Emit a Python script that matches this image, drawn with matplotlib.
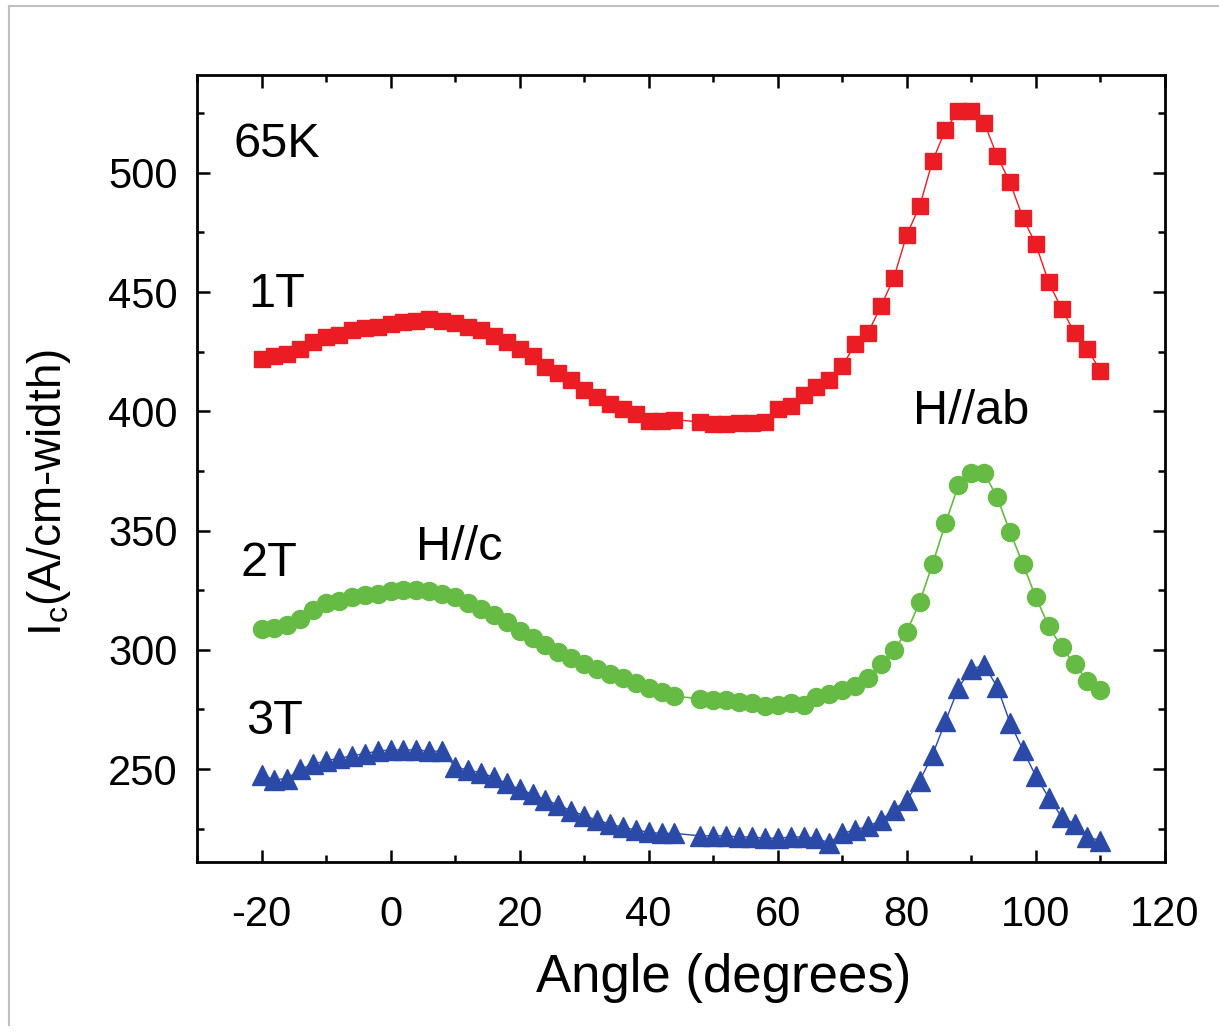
import matplotlib.pyplot as plt
from matplotlib.lines import Line2D
from matplotlib.ticker import MultipleLocator

plt.rcParams['font.family'] = ['Liberation Sans', 'DejaVu Sans']
plt.rcParams['axes.unicode_minus'] = False

# measurement angles (degrees); no point at 46
angles = [-20, -18, -16, -14, -12, -10, -8, -6, -4, -2, 0, 2, 4, 6, 8, 10, 12,
          14, 16, 18, 20, 22, 24, 26, 28, 30, 32, 34, 36, 38, 40, 42, 44,
          48, 50, 52, 54, 56, 58, 60, 62, 64, 66, 68, 70, 72, 74, 76, 78, 80,
          82, 84, 86, 88, 90, 92, 94, 96, 98, 100, 102, 104, 106, 108, 110]

ic_1t = [422, 423, 424, 426, 429, 431, 432, 434, 435, 435.5, 436.5, 437.5, 438,
         438.5, 438, 437, 435.5, 434, 431.5, 429, 426, 423, 418.5, 416, 413,
         409, 406, 403, 401, 399, 396, 396, 396.5,
         395.5, 394.5, 394.5, 395, 395, 395.5, 401, 402, 407, 410, 413, 419,
         428, 433, 444, 456, 474, 486, 505, 518, 526, 526, 521, 507, 496, 481,
         470, 454, 443, 433, 426, 417]

ic_2t = [308.5, 309, 310.5, 313, 316.5, 319.5, 320.5, 322, 323, 323.5, 324.5,
         325, 325, 324.5, 323.5, 322, 319.5, 317, 314.5, 311.5, 308, 305, 302,
         299, 296.5, 294, 292, 290, 288, 286, 284, 282.5, 280.5,
         279.5, 279, 279, 278, 277.5, 276.5, 277, 277.5, 277, 280, 281.5, 283,
         285, 288, 294, 300, 307.5, 320, 336, 353, 369, 374, 374, 364, 349.5,
         336, 322, 310, 301, 294, 287, 283]

ic_3t = [247.5, 245.5, 246, 250, 252, 253.5, 254.5, 255.5, 256.5, 257.5, 258,
         258, 258, 257.5, 257.5, 251, 249.5, 248.5, 246.5, 244, 241.5, 239.5,
         237, 235, 232.5, 230.5, 228.5, 227, 225.5, 224.5, 223.5, 223, 223,
         222, 222, 222, 221.5, 221.5, 221, 221, 221.5, 221.5, 221, 219, 223,
         224.5, 226, 228.5, 233, 237, 245, 256, 270, 284, 292, 293.5, 284.5,
         269.5, 258, 247, 238, 230, 227, 221.5, 220]

fig = plt.figure(figsize=(12.19, 10.34), dpi=100)
ax = fig.add_axes([0.1616, 0.1663, 0.794, 0.7612])

ax.plot(angles, ic_1t, color='#ec1c24', marker='s', markersize=11.5, lw=1)
ax.plot(angles, ic_2t, color='#66bb44', marker='o', markersize=13, lw=1.2)
ax.plot(angles, ic_3t, color='#2b4aa8', marker='^', markersize=14, lw=1)

ax.set_xlim(-30, 120)
ax.set_ylim(211, 541)
ax.xaxis.set_major_locator(MultipleLocator(20))
ax.xaxis.set_minor_locator(MultipleLocator(10))
ax.yaxis.set_major_locator(MultipleLocator(50))
ax.yaxis.set_minor_locator(MultipleLocator(25))
ax.tick_params(which='both', direction='in', top=True, right=True, width=1.8)
ax.tick_params(which='major', length=9)
ax.tick_params(which='minor', length=5)
ax.tick_params(axis='x', labelsize=30, pad=24)
ax.tick_params(axis='y', labelsize=30, pad=14)
for s in ax.spines.values():
    s.set_linewidth(2)

ax.set_xlabel('Angle (degrees)', fontsize=38)
ax.xaxis.set_label_coords(0.544, -0.115)
ax.set_ylabel(r'I$_\mathregular{c}$(A/cm-width)', fontsize=33)
ax.yaxis.set_label_coords(-0.128, 0.469)

ax.text(-24.4, 512, '65K', fontsize=35, va='center')
ax.text(-22, 449, '1T', fontsize=35, va='center')
ax.text(-23.3, 336, '2T', fontsize=35, va='center')
ax.text(-22.4, 270, '3T', fontsize=35, va='center')
ax.text(4, 343, 'H//c', fontsize=35, va='center')
ax.text(81, 400, 'H//ab', fontsize=35, va='center')

# thin grey frame around the picture
fig.add_artist(Line2D([9 / 1219, 9 / 1219], [1 - 1025 / 1034, 1 - 6 / 1034],
                      color='#c0c0c0', lw=1.5))
fig.add_artist(Line2D([9 / 1219, 1], [1 - 6 / 1034, 1 - 6 / 1034],
                      color='#c0c0c0', lw=1.5))

fig.savefig('out.png', dpi=100)
